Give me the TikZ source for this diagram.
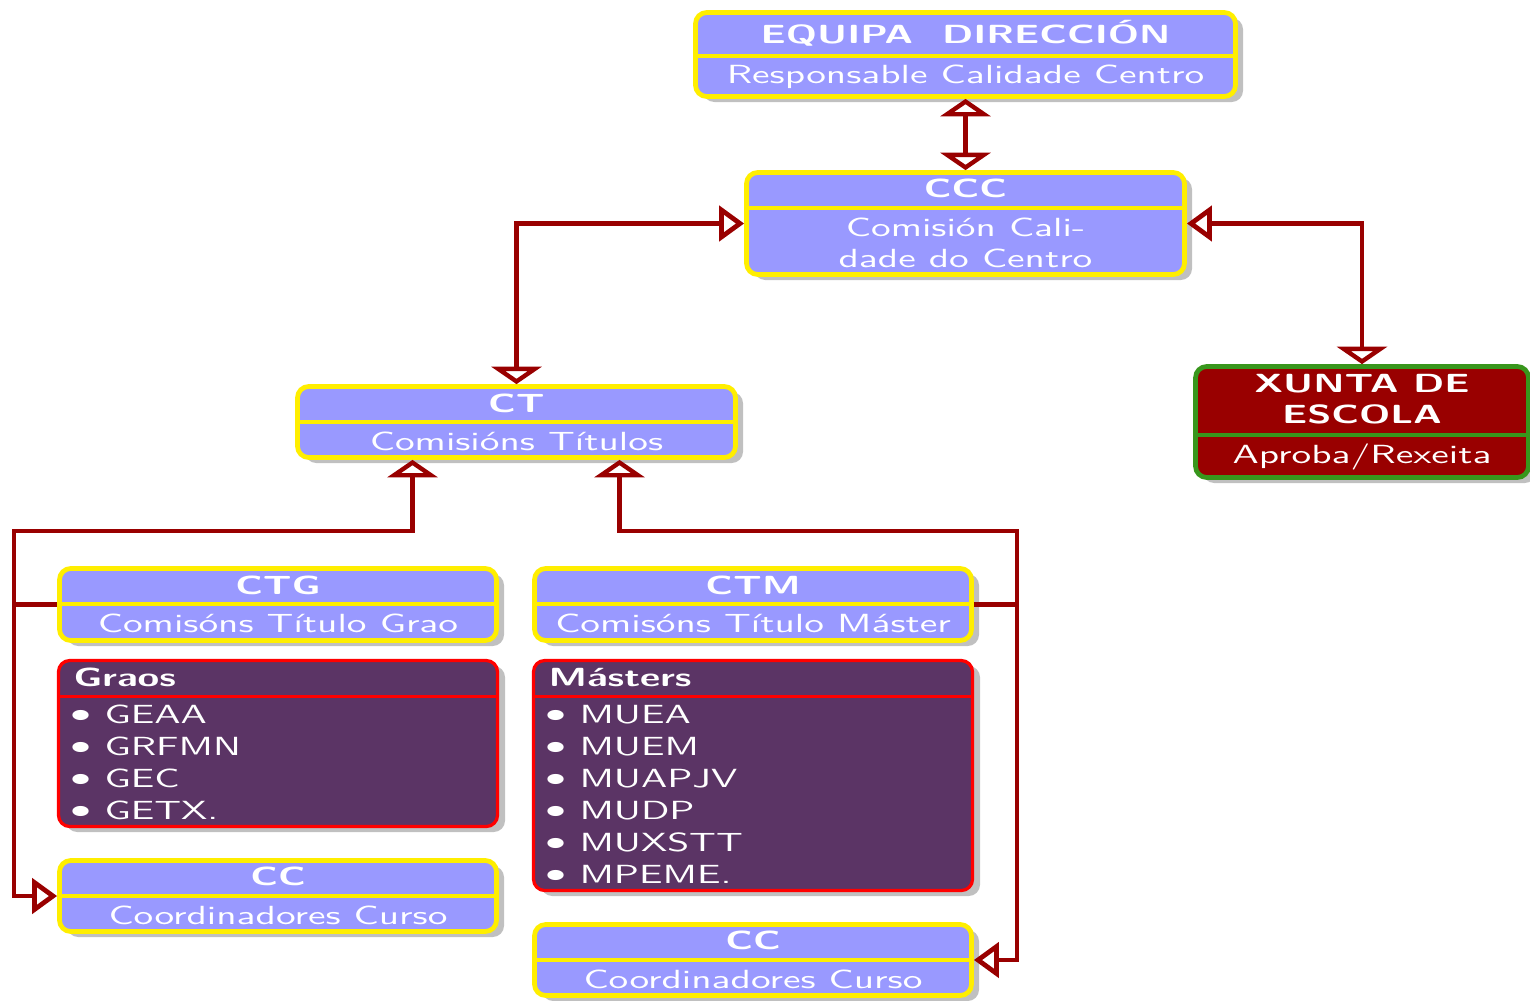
\documentclass[tikz,border=0pt]{standalone}
\usepackage{fontspec}
\setsansfont{lmsans10}[Extension=.otf,UprightFont=*-regular,BoldFont=*-bold,FakeStretch=1.5]
\newfontfamily\bulfont{DejaVu Sans}[FakeStretch=1.6]
\newcommand\bul{\makebox[16pt][l]{\raisebox{-2.2pt}{\bulfont\fontsize{14}{14}\selectfont •}}}
\usetikzlibrary{arrows.meta,shadows,calc}
\definecolor{blu}{RGB}{153,153,255}
\definecolor{yel}{RGB}{255,238,0}
\definecolor{pur}{RGB}{91,52,101}
\definecolor{redb}{RGB}{255,0,0}
\definecolor{dred}{RGB}{153,0,0}
\definecolor{grn}{RGB}{56,150,28}
\definecolor{arr}{RGB}{153,0,0}
\definecolor{shd}{RGB}{192,192,192}
\newcommand\pxu{0.4pt}
\tikzset{
  every node/.style={font=\sffamily\fontsize{10.5}{12.6}\selectfont, text=white, inner sep=0pt},
  shd/.style={drop shadow={shadow xshift=3pt,shadow yshift=-2.2pt,fill=shd,opacity=1}},
  bbox/.style={draw=yel, line width=1.9pt, fill=blu, rounded corners=4.5pt, shd},
  pbox/.style={draw=redb, line width=1.3pt, fill=pur, rounded corners=4.5pt, shd},
  xbox/.style={draw=grn, line width=1.9pt, fill=dred, rounded corners=4.5pt, shd},
  ysplit/.style={draw=yel, line width=1.3pt},
  rsplit/.style={draw=redb, line width=1.2pt},
  gsplit/.style={draw=grn, line width=1.3pt},
  hdr/.style={font=\sffamily\bfseries\fontsize{10.5}{12.6}\selectfont, anchor=base},
  sub/.style={anchor=base},
  lhdr/.style={font=\sffamily\bfseries\fontsize{10.5}{12.6}\selectfont, anchor=base west},
  item/.style={anchor=base west},
  conn/.style={draw=arr, line width=1.9pt},
  tipV/.tip={Triangle[open,length=7pt,width=20pt]},
  tipH/.tip={Triangle[open,length=10pt,width=14pt]},
}
\begin{document}
\begin{tikzpicture}[x=0.4pt,y=-0.4pt]
\useasboundingbox (0,0) rectangle (1530,1000);

% EQUIPA
\node[bbox, minimum width=540*\pxu, minimum height=84*\pxu] (eq) at (965.5,54.5) {};
\draw[ysplit] (696,56) -- (1235,56);
\node[hdr] (eqh) at (965.5,43) {EQUIPA\ \ DIRECCIÓN};
\node[sub] (eqs) at (965.5,83) {Responsable Calidade Centro};

% CCC
\node[bbox, minimum width=438*\pxu, minimum height=102*\pxu] (ccc) at (965.5,223.5) {};
\draw[ysplit] (747,208) -- (1184,208);
\node[hdr] (ccch) at (965.5,197) {CCC};
\node[sub] (cccs1) at (965.5,236) {Comisión Cali-};
\node[sub] (cccs2) at (965.5,267) {dade do Centro};

% CT
\node[bbox, minimum width=438*\pxu, minimum height=71*\pxu] (ct) at (516.5,422) {};
\draw[ysplit] (298,422) -- (735,422);
\node[hdr] (cth) at (516.5,412) {CT};
\node[sub] (cts) at (516.5,450) {Comisións Títulos};

% XUNTA
\node[xbox, minimum width=333*\pxu, minimum height=111*\pxu] (xunta) at (1362,422) {};
\draw[gsplit] (1196,435) -- (1528,435);
\node[hdr] (xh1) at (1362,392) {XUNTA DE};
\node[hdr] (xh2) at (1362,423) {ESCOLA};
\node[sub] (xs) at (1362,463) {Aproba/Rexeita};

% CTG
\node[bbox, minimum width=437*\pxu, minimum height=72*\pxu] (ctg) at (278,604.5) {};
\draw[ysplit] (60,604) -- (496,604);
\node[hdr] (ctgh) at (278,594) {CTG};
\node[sub] (ctgs) at (278,632) {Comisóns Título Grao};

% CTM
\node[bbox, minimum width=437*\pxu, minimum height=72*\pxu] (ctm) at (753,604.5) {};
\draw[ysplit] (535,604) -- (971,604);
\node[hdr] (ctmh) at (753,594) {CTM};
\node[sub] (ctms) at (753,632) {Comisóns Título Máster};

% Graos
\node[pbox, minimum width=439*\pxu, minimum height=166*\pxu] (graos) at (278,743.5) {};
\draw[rsplit] (58,696) -- (498,696);
\node[lhdr] (grh) at (73,686) {Graos};
\node[item] (g1) at (64,723) {\bul GEAA};
\node[item] (g2) at (64,755) {\bul GRFMN};
\node[item] (g3) at (64,787) {\bul GEC};
\node[item] (g4) at (64,819) {\bul GETX.};

% Masters
\node[pbox, minimum width=439*\pxu, minimum height=230*\pxu] (mast) at (753,775.5) {};
\draw[rsplit] (533,696) -- (973,696);
\node[lhdr] (msh) at (548,686) {Másters};
\node[item] (m1) at (539,723) {\bul MUEA};
\node[item] (m2) at (539,755) {\bul MUEM};
\node[item] (m3) at (539,787) {\bul MUAPJV};
\node[item] (m4) at (539,819) {\bul MUDP};
\node[item] (m5) at (539,851) {\bul MUXSTT};
\node[item] (m6) at (539,883) {\bul MPEME.};

% CC1
\node[bbox, minimum width=437*\pxu, minimum height=71*\pxu] (cc1) at (278,896) {};
\draw[ysplit] (60,896) -- (496,896);
\node[hdr] (cc1h) at (278,885) {CC};
\node[sub] (cc1s) at (278,924) {Coordinadores Curso};

% CC2
\node[bbox, minimum width=437*\pxu, minimum height=71*\pxu] (cc2) at (753,960) {};
\draw[ysplit] (535,960) -- (971,960);
\node[hdr] (cc2h) at (753,949) {CC};
\node[sub] (cc2s) at (753,988) {Coordinadores Curso};

% connectors
\coordinate (ctA) at ($(ct.south)+(-104,0)$);
\coordinate (ctB) at ($(ct.south)+(103,0)$);
\coordinate (busL) at (14,531);
\coordinate (busR) at (1017,531);
\draw[conn,{tipV}-{tipV}] (eq.south) -- (ccc.north);
\draw[conn,{tipH}-{tipV}] (ccc.west) -| (ct.north);
\draw[conn,{tipH}-{tipV}] (ccc.east) -| (xunta.north);
\draw[conn,{tipH}-{tipV}] (cc1.west) -| (busL) -| (ctA);
\draw[conn] (ctg.west) -- (ctg.west -| busL);
\draw[conn,{tipH}-{tipV}] (cc2.east) -| (busR) -| (ctB);
\draw[conn] (ctm.east) -- (ctm.east -| busR);
\end{tikzpicture}
\end{document}
